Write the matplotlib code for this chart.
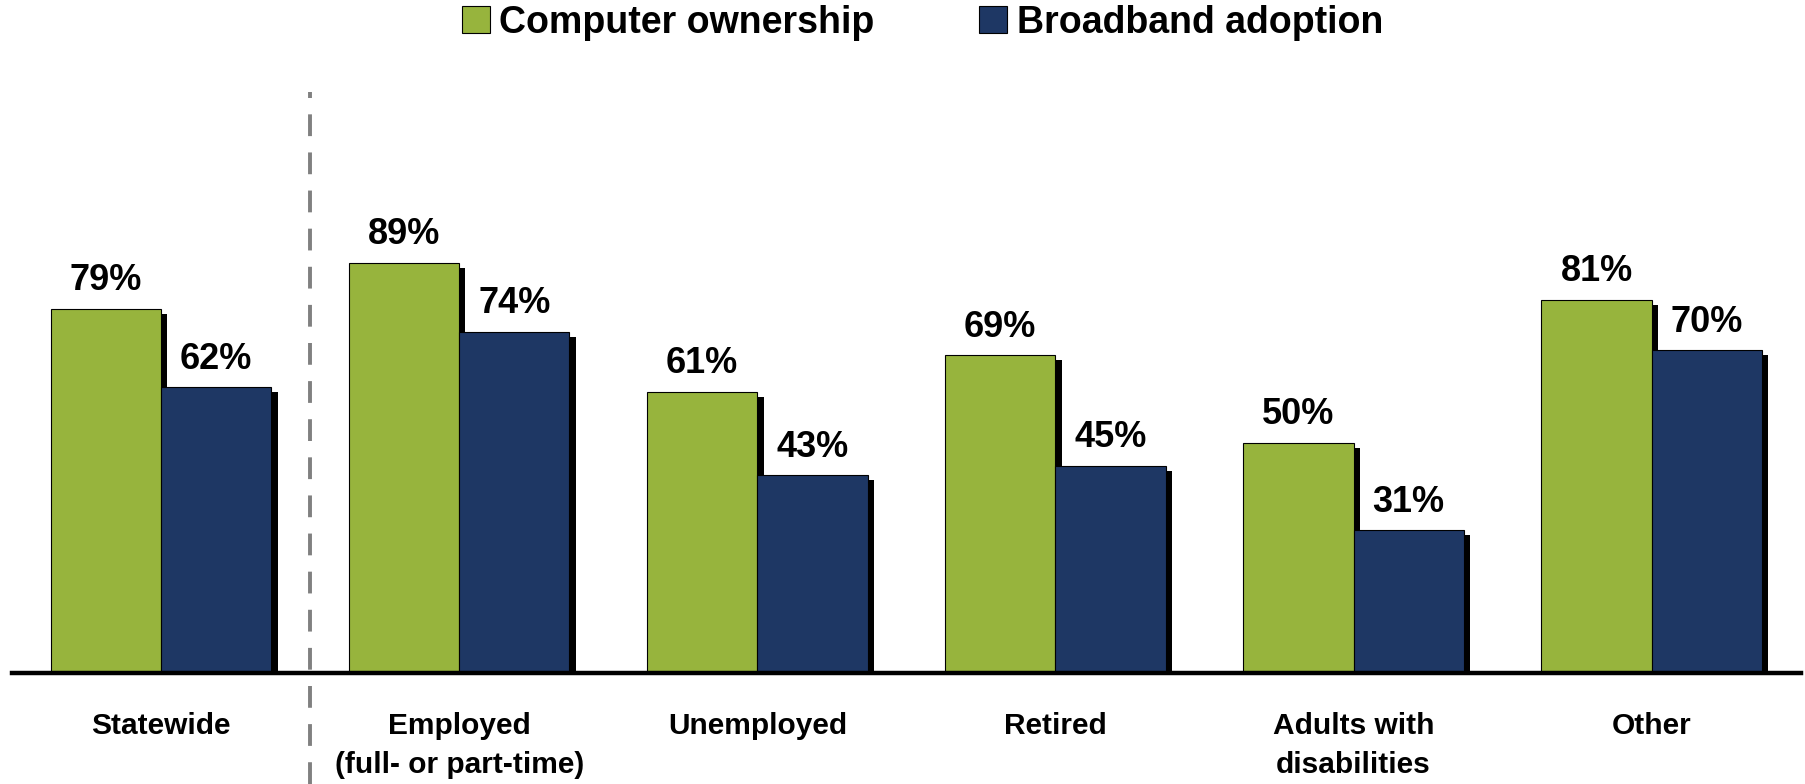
import numpy as np
import matplotlib.pyplot as plt
from matplotlib.patches import Patch

plt.rcParams['font.family'] = ['Liberation Sans', 'DejaVu Sans']
plt.rcParams['font.weight'] = 'bold'

categories = ["Statewide", "Employed\n(full- or part-time)", "Unemployed", "Retired",
              "Adults with\ndisabilities", "Other"]
computer = [79, 89, 61, 69, 50, 81]
broadband = [62, 74, 43, 45, 31, 70]
series_names = ["Computer ownership", "Broadband adoption"]

green = "#97B43D"
navy = "#1E3764"

fig = plt.figure(figsize=(18.05, 7.84), dpi=100)
ax = fig.add_axes([0.00665, 0.141, 0.991, 0.677])

x = np.arange(len(categories))
w = 0.37
dx, dy = 0.021, 1.1

# shadows first
for vals, off in [(computer, -w / 2), (broadband, w / 2)]:
    ax.bar(x + off + dx, vals, w, bottom=-dy, color="black", zorder=1)

ax.bar(x - w / 2, computer, w, color=green, edgecolor="black", linewidth=0.8, zorder=2)
ax.bar(x + w / 2, broadband, w, color=navy, edgecolor="black", linewidth=0.8, zorder=2)

for i in range(len(categories)):
    ax.text(x[i] - w / 2, computer[i] + 4, f"{computer[i]}%", ha="center", va="baseline",
            fontsize=26, fontweight="bold")
    ax.text(x[i] + w / 2, broadband[i] + 4, f"{broadband[i]}%", ha="center", va="baseline",
            fontsize=26, fontweight="bold")
    ax.text(x[i], -8.3, categories[i], ha="center", va="top", fontsize=21.5,
            fontweight="bold", linespacing=1.5, clip_on=False)

# separator after the statewide group
ax.plot([0.5, 0.5], [-24, 126], color="#808080", linewidth=2.8,
        linestyle=(0, (5.6, 4.2)), clip_on=False, zorder=0)

ax.set_xlim(-0.5, 5.5)
ax.set_ylim(0, 115)
ax.set_xticks([])
ax.set_yticks([])
for s in ["top", "left", "right"]:
    ax.spines[s].set_visible(False)
ax.spines["bottom"].set_linewidth(3.2)
ax.spines["bottom"].set_zorder(3)

handles = [Patch(facecolor=green, edgecolor="black", linewidth=0.8),
           Patch(facecolor=navy, edgecolor="black", linewidth=0.8)]
fig.legend(handles, series_names, loc="center", bbox_to_anchor=(0.511, 0.971), ncol=2,
           frameon=False, prop={"size": 27, "weight": "bold"}, handlelength=0.75,
           handleheight=0.75, handletextpad=0.25, columnspacing=2.8)

fig.savefig("out.png", dpi=100)
